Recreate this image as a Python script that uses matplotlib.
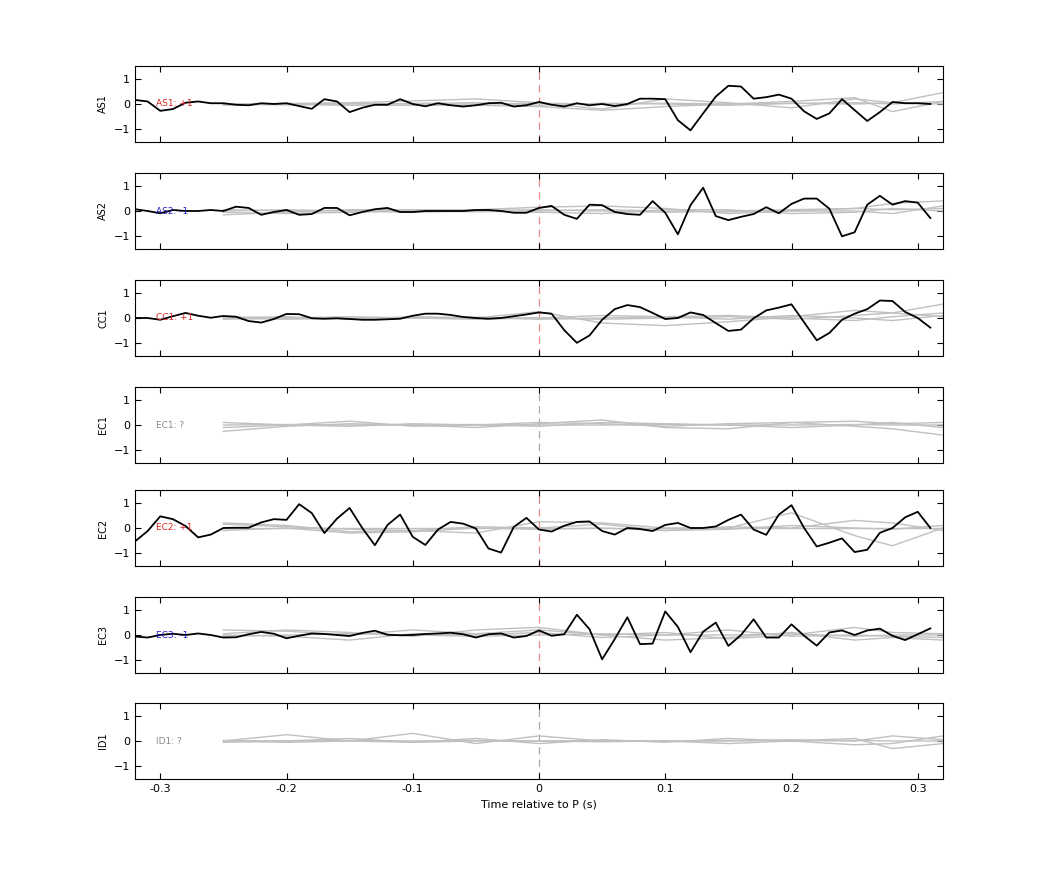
import matplotlib
matplotlib.use("Agg")
import matplotlib.pyplot as plt
import numpy as np

t_black = [round(-0.32 + 0.01 * i, 2) for i in range(64)]  # -0.32 .. 0.31
t_gray = [-0.25, -0.20, -0.15, -0.10, -0.05, 0.0, 0.05, 0.10, 0.15, 0.20, 0.25, 0.28, 0.32]

stations = ["AS1", "AS2", "CC1", "EC1", "EC2", "EC3", "ID1"]
labels = ["AS1: +1", "AS2: -1", "CC1: +1", "EC1: ?", "EC2: +1", "EC3: -1", "ID1: ?"]
label_colors = ["#dd2222", "#2222cc", "#dd2222", "#888888", "#dd2222", "#2222cc", "#888888"]

black = {
    "AS1": [0.16, 0.1, -0.27, -0.2, 0.05, 0.1, 0.03, 0.03, -0.03, -0.05, 0.03, 0.0, 0.03, -0.08,
            -0.19, 0.19, 0.1, -0.32, -0.15, -0.03, -0.03, 0.19, 0.0, -0.09, 0.03, -0.05, -0.1, -0.05,
            0.03, 0.05, -0.1, -0.05, 0.08, -0.03, -0.1, 0.03, -0.05, 0.0, -0.08, 0.0, 0.21, 0.21,
            0.19, -0.64, -1.04, -0.37, 0.29, 0.72, 0.69, 0.21, 0.27, 0.37, 0.21, -0.29, -0.59, -0.37,
            0.19, -0.24, -0.67, -0.32, 0.08, 0.03, 0.03, 0.0],
    "AS2": [0.07, 0.0, -0.09, 0.04, 0.0, 0.0, 0.04, 0.0, 0.17, 0.12, -0.15, -0.04, 0.04, -0.15,
            -0.12, 0.12, 0.12, -0.17, -0.04, 0.07, 0.12, -0.04, -0.04, 0.0, 0.0, 0.0, 0.0, 0.04,
            0.04, 0.0, -0.07, -0.07, 0.12, 0.2, -0.15, -0.31, 0.25, 0.23, -0.04, -0.12, -0.15, 0.39,
            -0.07, -0.92, 0.23, 0.92, -0.2, -0.36, -0.23, -0.12, 0.15, -0.09, 0.28, 0.49, 0.49, 0.09,
            -1.0, -0.84, 0.25, 0.6, 0.25, 0.39, 0.33, -0.28],
    "CC1": [0.0, 0.0, -0.07, 0.07, 0.2, 0.09, 0.01, 0.08, 0.05, -0.12, -0.18, -0.04, 0.16, 0.15,
            -0.01, -0.03, -0.01, -0.04, -0.07, -0.07, -0.05, -0.03, 0.09, 0.17, 0.17, 0.12, 0.04, 0.0,
            -0.03, 0.0, 0.07, 0.14, 0.22, 0.17, -0.48, -0.98, -0.69, -0.07, 0.35, 0.51, 0.43, 0.2,
            -0.04, 0.0, 0.22, 0.12, -0.2, -0.51, -0.46, -0.01, 0.3, 0.41, 0.54, -0.17, -0.88, -0.59,
            -0.07, 0.17, 0.35, 0.69, 0.67, 0.24, 0.0, -0.38],
    "EC2": [-0.53, -0.12, 0.46, 0.35, 0.08, -0.37, -0.26, 0.0, 0.01, 0.01, 0.22, 0.35, 0.32, 0.94,
            0.59, -0.2, 0.37, 0.79, 0.0, -0.68, 0.12, 0.53, -0.35, -0.67, -0.06, 0.24, 0.17, -0.02,
            -0.81, -0.97, 0.04, 0.4, -0.06, -0.14, 0.09, 0.24, 0.26, -0.12, -0.26, 0.0, -0.04, -0.12,
            0.12, 0.2, 0.0, 0.0, 0.06, 0.32, 0.53, -0.06, -0.27, 0.53, 0.9, 0.0, -0.73, -0.58,
            -0.41, -0.95, -0.86, -0.19, 0.0, 0.42, 0.64, 0.0],
    "EC3": [-0.06, -0.1, 0.0, 0.05, 0.0, 0.06, 0.0, -0.1, -0.09, 0.03, 0.12, 0.05, -0.13, -0.03,
            0.06, 0.04, 0.0, -0.04, 0.08, 0.17, 0.01, -0.01, 0.0, 0.04, 0.06, 0.09, 0.03, -0.1,
            0.03, 0.06, -0.1, -0.04, 0.18, -0.03, 0.03, 0.8, 0.23, -0.96, -0.16, 0.7, -0.36, -0.34,
            0.93, 0.32, -0.68, 0.13, 0.49, -0.43, 0.0, 0.62, -0.1, -0.1, 0.42, -0.03, -0.42, 0.1,
            0.18, 0.0, 0.18, 0.25, -0.03, -0.2, 0.03, 0.26],
}

gray = {
    "AS1": [[0.0, 0.02, 0.05, 0.12, 0.2, 0.05, -0.2, 0.2, 0.05, -0.15, 0.2, 0.05, 0.45],
            [0.0, -0.02, -0.05, -0.05, -0.05, -0.1, -0.25, -0.1, 0.0, 0.1, 0.25, -0.3, 0.1],
            [-0.05, 0.0, 0.02, 0.0, 0.0, 0.03, 0.0, 0.03, 0.0, 0.02, 0.05, 0.0, 0.1],
            [0.0, -0.03, 0.0, 0.02, 0.05, -0.05, 0.03, 0.0, -0.05, 0.03, 0.0, 0.05, 0.0]],
    "AS2": [[-0.15, -0.05, 0.05, 0.05, 0.05, 0.15, 0.2, 0.1, -0.1, 0.0, 0.1, 0.3, 0.4],
            [0.0, 0.05, 0.0, -0.05, 0.0, -0.05, -0.1, 0.05, 0.05, -0.1, -0.05, 0.1, 0.0],
            [-0.05, -0.1, -0.05, 0.0, 0.03, 0.05, 0.0, -0.05, 0.0, 0.05, 0.1, 0.05, 0.1],
            [0.05, 0.0, 0.02, 0.0, -0.03, 0.0, 0.05, 0.0, -0.03, 0.0, 0.0, -0.1, 0.2]],
    "CC1": [[0.0, 0.05, -0.05, 0.05, 0.0, 0.25, -0.2, -0.3, -0.15, 0.05, 0.3, 0.2, 0.55],
            [-0.05, 0.0, 0.05, 0.0, -0.05, 0.0, 0.1, 0.05, 0.1, 0.0, -0.1, 0.05, 0.2],
            [0.0, -0.05, 0.0, 0.0, 0.03, -0.05, 0.0, 0.05, -0.05, 0.1, 0.0, -0.1, 0.1],
            [0.05, 0.0, -0.03, 0.03, 0.0, 0.0, -0.05, 0.0, 0.05, -0.05, 0.1, 0.2, 0.05]],
    "EC1": [[-0.25, -0.05, 0.05, 0.0, -0.1, 0.05, 0.2, -0.1, -0.15, 0.1, -0.05, -0.15, -0.4],
            [0.1, 0.0, 0.15, -0.05, 0.0, 0.1, 0.05, -0.05, 0.05, 0.1, 0.15, 0.05, 0.1],
            [-0.1, 0.0, -0.05, 0.05, 0.0, -0.05, 0.1, 0.05, 0.0, -0.1, 0.0, 0.1, -0.1],
            [0.0, 0.02, 0.0, 0.0, 0.02, 0.0, 0.0, 0.02, 0.0, 0.0, 0.02, 0.0, 0.0]],
    "EC2": [[0.2, 0.1, -0.15, -0.1, -0.2, 0.25, 0.2, 0.0, 0.0, 0.6, -0.3, -0.7, 0.0],
            [0.15, 0.05, -0.05, -0.1, 0.05, 0.0, 0.15, -0.1, 0.05, 0.0, 0.3, 0.2, -0.1],
            [-0.1, 0.0, -0.2, -0.15, 0.0, -0.05, 0.0, -0.1, -0.05, 0.1, 0.0, -0.05, 0.1],
            [0.0, 0.0, 0.0, 0.0, 0.0, 0.0, 0.0, 0.0, 0.0, 0.0, 0.0, 0.0, 0.0]],
    "EC3": [[0.2, 0.15, 0.0, 0.2, 0.05, 0.2, 0.0, -0.2, -0.1, 0.1, -0.2, -0.1, -0.2],
            [0.05, 0.2, 0.1, -0.05, 0.2, 0.3, 0.0, 0.1, -0.15, 0.0, 0.3, 0.1, 0.05],
            [0.0, -0.05, -0.2, 0.05, 0.0, 0.1, -0.1, 0.0, 0.2, -0.05, 0.0, -0.05, -0.1],
            [-0.05, 0.0, 0.05, 0.0, -0.05, 0.0, 0.05, 0.0, 0.0, 0.05, -0.05, 0.0, 0.0]],
    "ID1": [[0.0, 0.25, 0.0, 0.3, -0.1, 0.2, 0.0, 0.0, -0.1, 0.0, 0.1, -0.3, -0.1],
            [-0.05, 0.0, 0.1, -0.05, 0.1, -0.1, 0.05, -0.05, 0.1, 0.0, -0.15, -0.1, 0.2],
            [0.0, -0.05, 0.0, -0.05, 0.0, 0.0, -0.03, 0.0, 0.0, 0.05, 0.0, 0.2, 0.05],
            [0.02, 0.0, 0.02, 0.0, 0.02, 0.0, 0.02, 0.0, 0.02, 0.0, 0.02, 0.0, 0.0]],
}

fig = plt.figure(figsize=(10.42, 8.75), dpi=100)
left, right = 135 / 1042, 943 / 1042
top_px = [66, 173, 280, 387, 490, 597, 703]
h_px = 76
for i, st in enumerate(stations):
    y0 = 1 - (top_px[i] + h_px) / 875
    ax = fig.add_axes([left, y0, right - left, h_px / 875])
    for g in gray[st]:
        ax.plot(t_gray, g, color="#c0c0c0", lw=1.0, zorder=2)
    if st in black:
        ax.plot(t_black, black[st], color="black", lw=1.3, zorder=3)
        dcol = "#ee8888"
    else:
        dcol = "#aaaaaa"
    ax.axvline(0, color=dcol, lw=0.9, ls=(0, (6, 4)), zorder=1)
    ax.text(-0.303, 0, labels[i], color=label_colors[i], fontsize=6.5, va="center", ha="left", zorder=4)
    ax.set_xlim(-0.32, 0.32)
    ax.set_ylim(-1.5, 1.5)
    ax.set_yticks([-1, 0, 1])
    ax.set_xticks([-0.3, -0.2, -0.1, 0, 0.1, 0.2, 0.3])
    ax.tick_params(direction="in", top=True, right=True, labelsize=8, length=4)
    ax.set_ylabel(st, fontsize=7)
    if i < len(stations) - 1:
        ax.set_xticklabels([])
    else:
        ax.set_xticklabels(["-0.3", "-0.2", "-0.1", "0", "0.1", "0.2", "0.3"])
        ax.set_xlabel("Time relative to P (s)", fontsize=8)

fig.savefig("out.png", dpi=100)
